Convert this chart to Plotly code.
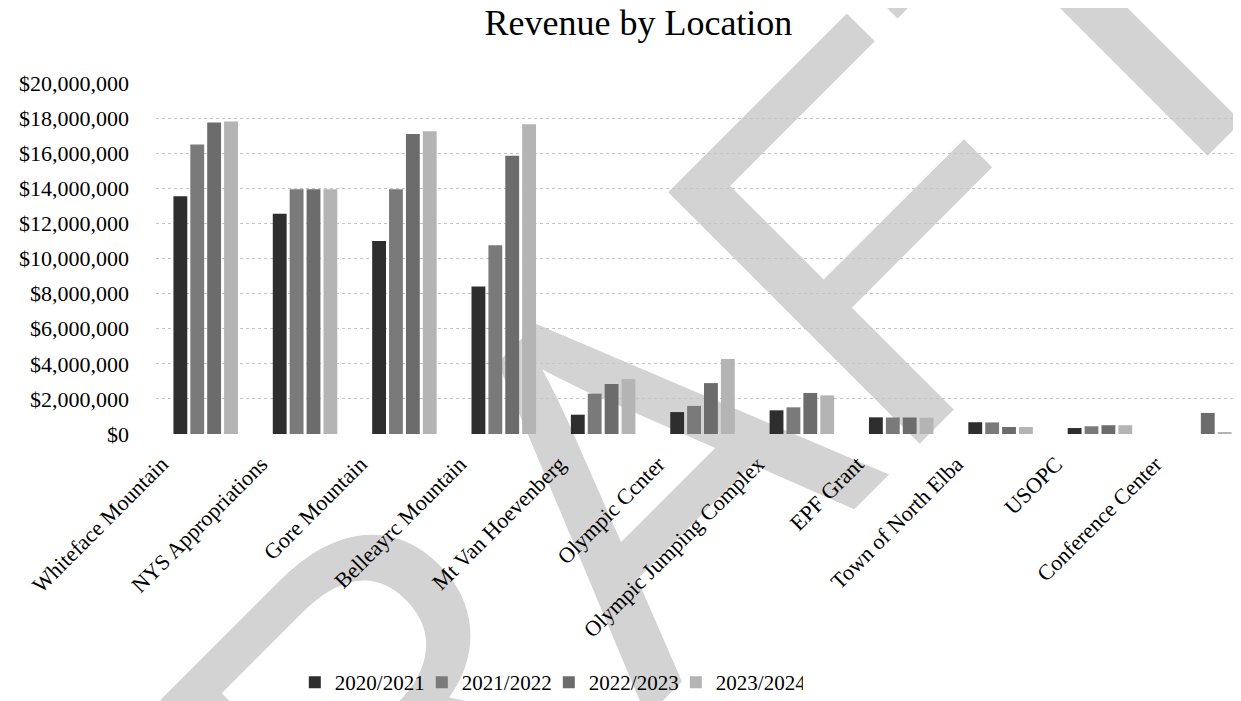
import plotly.graph_objects as go

# データ
locations = [
    "Whiteface Mountain", "NYS Appropriations", "Gore Mountain", "Belleayrc Mountain",
    "Mt Van Hoevenberg", "Olympic Ccnter", "Olympic Jumping Complex", "EPF Grant",
    "Town of North Elba", "USOPC", "Conference Center",
]
rev_2020_2021 = [13550000, 12550000, 11000000, 8400000, 1100000, 1250000, 1350000, 950000, 670000, 340000, 0]
rev_2021_2022 = [16500000, 13950000, 13950000, 10750000, 2300000, 1600000, 1520000, 940000, 660000, 440000, 0]
rev_2022_2023 = [17750000, 13950000, 17100000, 15850000, 2850000, 2900000, 2340000, 940000, 400000, 500000, 1200000]
rev_2023_2024 = [17800000, 13950000, 17250000, 17650000, 3130000, 4270000, 2200000, 930000, 400000, 500000, 80000]

series_names = ["2020/2021", "2021/2022", "2022/2023", "2023/2024"]
series_values = [rev_2020_2021, rev_2021_2022, rev_2022_2023, rev_2023_2024]
series_colors = ["#2e2e2e", "#7a7a7a", "#6c6c6c", "#b4b4b4"]

serif = "Liberation Serif, Times New Roman, serif"

fig = go.Figure()
for name, vals, col in zip(series_names, series_values, series_colors):
    fig.add_trace(go.Bar(x=locations, y=vals, name=name, marker_color=col, marker_line_width=0))

# DRAFT の透かし (グラフの下に描く)
fig.add_shape(
    type="rect", xref="paper", yref="paper",
    x0=0.369, x1=0.381, y0=-0.123, y1=-0.111,
    line_width=0, fillcolor="rgba(0,0,0,0)", layer="below",
    label=dict(text="DRAFT", textangle=-45, textposition="middle center",
               font=dict(family="Liberation Sans, Arial", size=517, color="#d3d3d3")),
)

fig.update_layout(
    width=1241, height=701,
    margin=dict(l=148, r=0, t=75, b=275),
    paper_bgcolor="white", plot_bgcolor="white",
    font=dict(family=serif, color="black"),
    title=dict(text="Revenue by Location", x=0.508, xanchor="center", y=0.98, yanchor="middle",
               font=dict(family=serif, size=36, color="black")),
    barmode="group", bargap=0.32, bargroupgap=0.18,
    legend=dict(orientation="h", x=0.127, xanchor="left", y=-0.708, yanchor="middle",
                bgcolor="rgba(0,0,0,0)", entrywidth=82, entrywidthmode="pixels",
                font=dict(family=serif, size=21), traceorder="normal"),
    showlegend=True,
)
fig.update_yaxes(
    range=[0, 20000000], dtick=2000000, tickprefix="$", tickformat=",d",
    showgrid=True, gridcolor="#c4c4c4", griddash="dot", gridwidth=1,
    zeroline=False, showline=False, ticks="", ticklabelstandoff=26,
    tickfont=dict(family=serif, size=22), automargin=False,
)
fig.update_xaxes(
    tickangle=-45, tickfont=dict(family=serif, size=22), showgrid=False,
    showline=False, ticks="", automargin=False,
    ticklabelshift=-44, ticklabelstandoff=12,
)

fig.write_html("out.html")
